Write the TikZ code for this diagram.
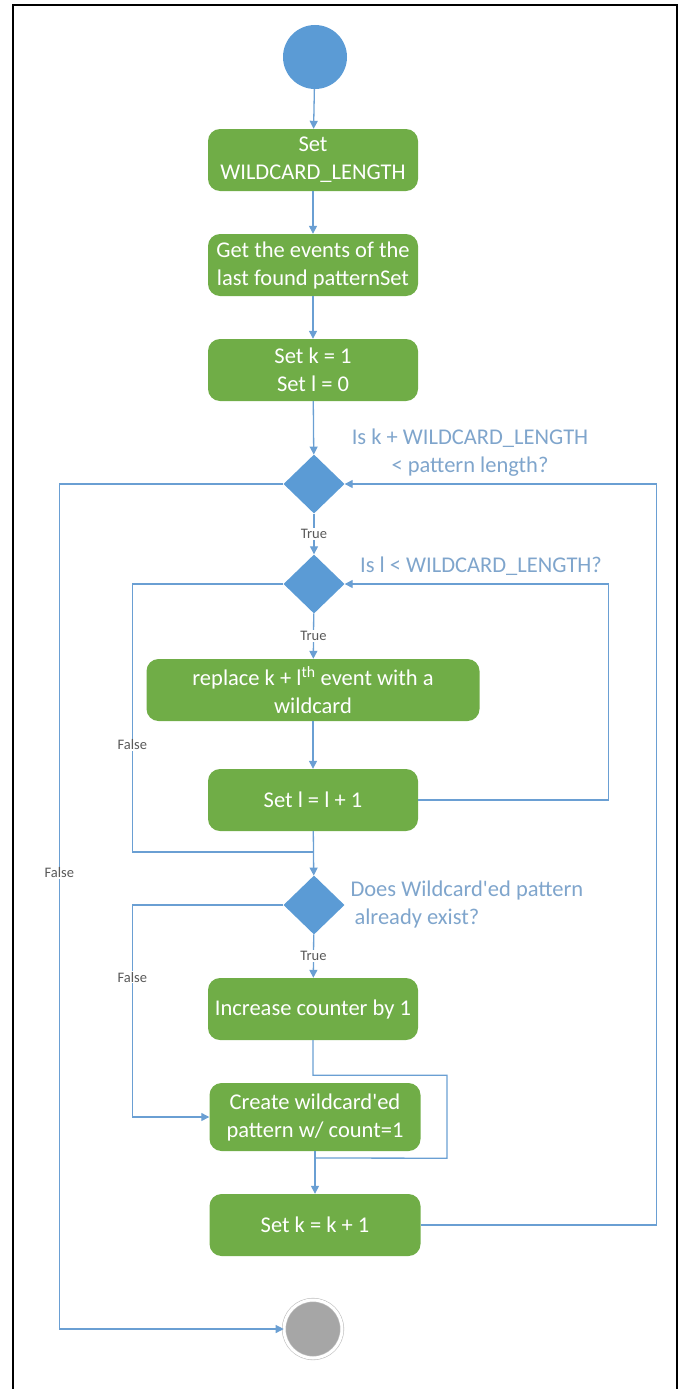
\documentclass[tikz,border=0pt]{standalone}
\usepackage{fontspec}
\setmainfont{Carlito}
\usepackage{tikz}
\usetikzlibrary{calc, positioning, shapes.geometric, arrows.meta}

\definecolor{actgreen}{HTML}{70AD47}
\definecolor{actblue}{HTML}{5B9BD5}
\definecolor{flowline}{HTML}{6A9FD3}
\definecolor{guardtxt}{HTML}{7FA5CC}
\definecolor{endgray}{HTML}{A6A6A6}

\tikzset{
  action/.style={rectangle, rounded corners=12pt, fill=actgreen, text=white,
    minimum width=210pt, minimum height=62pt, inner sep=3pt, align=center,
    font=\fontsize{22.5}{28}\selectfont},
  decision/.style={diamond, fill=actblue, minimum width=61pt, minimum height=59pt, inner sep=0pt},
  guard/.style={text=guardtxt, font=\fontsize{22.5}{28}\selectfont},
  branch/.style={fill=white, text=black!65, inner sep=1pt, font=\fontsize{14.5}{16}\selectfont},
  flow/.style={draw=flowline, line width=1.3pt}
}

\begin{document}
\begin{tikzpicture}[x=1pt, y=-1pt, >={Triangle[length=8pt,width=8pt]}]
  \useasboundingbox (0,0) rectangle (683,1389);
  \draw [line width=2.5pt] (13,1389) -- (13,5) -- (677,5) -- (677,1389);

  % start and end
  \node (start) at (315,57) [circle, fill=actblue, minimum size=64pt, inner sep=0pt] {};
  \node (stop) at (313,1329) [circle, fill=endgray, draw=black!25, double=white,
    double distance=3pt, line width=0.6pt, minimum size=58pt, inner sep=0pt] {};

  % actions
  \node (setwl) at (313,160) [action] {Set\\WILDCARD\_LENGTH};
  \node (getev) at (313,265) [action] {Get the events of the\\last found patternSet};
  \node (setkl) at (313,370) [action] {Set k = 1\\Set l = 0};
  \node (replace) at (313,690) [action, minimum width=333pt] {replace k + l\textsuperscript{th} event with a\\wildcard};
  \node (incl) at (313,800) [action] {Set l = l + 1};
  \node (inccnt) at (313,1009) [action] {Increase counter by 1};
  \node (create) at (315,1117) [action, minimum width=211pt, minimum height=68pt] {Create wildcard\textquotesingle ed\\pattern w/ count=1};
  \node (inck) at (315,1225) [action, minimum width=211pt] {Set k = k + 1};

  % decisions
  \node (condk) at (314,484) [decision] {};
  \node (condl) at (314,584) [decision] {};
  \node (condex) at (314,905) [decision] {};
  \node at (470,453) [guard, align=center] {Is k + WILDCARD\_LENGTH\\< pattern length?};
  \node at (481,566) [guard] {Is l < WILDCARD\_LENGTH?};
  \node at (347,904) [guard, anchor=west, align=left] {Does Wildcard\textquotesingle ed pattern\\\hspace{4pt}already exist?};

  % junctions
  \coordinate (jl) at (314,852);
  \coordinate (jc) at (315,1158);

  % main flow
  \draw [flow, ->] (start) -- (setwl);
  \draw [flow, ->] (setwl) -- (getev);
  \draw [flow, ->] (getev) -- (setkl);
  \draw [flow, ->] (setkl) -- (condk);
  \draw [flow, ->] (condk) -- node [branch] {True} (condl);
  \draw [flow, ->] (condl) -- node [branch] {True} (replace);
  \draw [flow, ->] (replace) -- (incl);
  \draw [flow, ->] (incl) -- (condex);
  \draw [flow, ->] (condex) -- node [branch] {True} (inccnt);
  \draw [flow, ->] (create) -- (inck);

  % loops and branches
  \draw [flow, ->] (incl.east) -- ++(190,0) |- (condl.east);
  \draw [flow, ->] (inck.east) -- ++(236,0) |- (condk.east);
  \draw [flow] (condl.west) -- ++(-151,0) |- node [branch, pos=0.3] {False} (jl);
  \draw [flow, ->] (condk.west) -- ++(-224,0) |- node [branch, pos=0.23] {False} (stop);
  \draw [flow, ->] (condex.west) -- ++(-151,0) |- node [branch, pos=0.17] {False} (create.west);
  \draw [flow] (inccnt.south) -- ++(0,35) -| ++(134,83) -- (jc);
\end{tikzpicture}
\end{document}
